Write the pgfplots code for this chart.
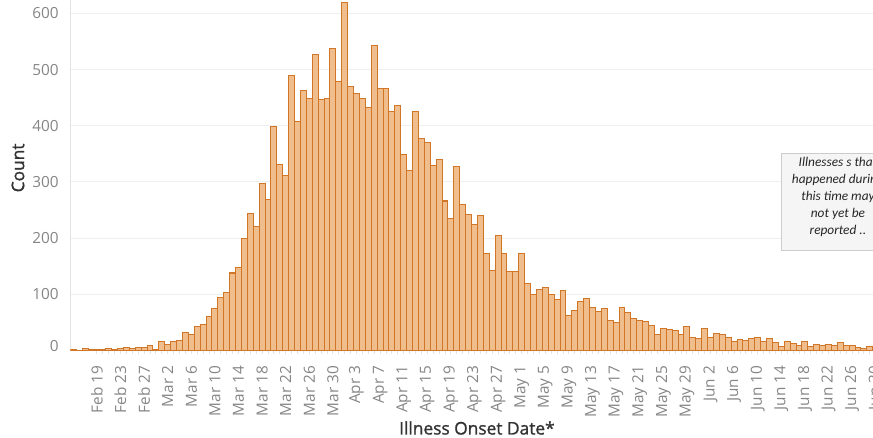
\documentclass[border=0pt]{standalone}
\usepackage{fontspec}
\setmainfont{Open Sans}
\newfontfamily\titlefont[FakeBold=1.2]{Open Sans}
\newfontfamily\notefont{Carlito}
\usepackage{pgfplots}
\pgfplotsset{compat=1.18}
\usepackage{pgfplotstable}

\definecolor{barfill}{HTML}{F0BE8C}
\definecolor{baredge}{HTML}{D17626}
\definecolor{ticktext}{HTML}{858585}
\definecolor{titletext}{HTML}{333333}
\definecolor{gridc}{HTML}{EFEFEF}
\definecolor{axisc}{HTML}{E3E3E3}
\definecolor{notefill}{HTML}{F5F5F5}
\definecolor{noteedge}{HTML}{CCCCCC}

% day 0 = Feb 15
\pgfplotstableread{
day count
0 2
1 0
2 4
3 1
4 1
5 1
6 4
7 1
8 4
9 6
10 4
11 6
12 6
13 9
14 2
15 16
16 11
17 16
18 18
19 32
20 29
21 42
22 47
23 61
24 74
25 95
26 104
27 138
28 147
29 200
30 243
31 220
32 297
33 269
34 398
35 331
36 312
37 490
38 407
39 463
40 449
41 527
42 446
43 449
44 538
45 479
46 619
47 469
48 458
49 449
50 432
51 542
52 466
53 466
54 426
55 436
56 348
57 321
58 426
59 377
60 370
61 329
62 340
63 266
64 235
65 327
66 260
67 242
68 225
69 241
70 172
71 143
72 205
73 172
74 140
75 140
76 172
77 119
78 100
79 109
80 112
81 100
82 90
83 106
84 63
85 71
86 87
87 93
88 76
89 69
90 74
91 54
92 50
93 76
94 68
95 57
96 54
97 52
98 45
99 29
100 39
101 37
102 35
103 29
104 43
105 24
106 22
107 39
108 24
109 31
110 29
111 24
112 16
113 20
114 18
115 22
116 23
117 16
118 22
119 15
120 7
121 16
122 13
123 9
124 16
125 7
126 11
127 9
128 11
129 9
130 15
131 9
132 9
133 6
134 4
135 7
}\onset

\begin{document}
\begin{tikzpicture}
\begin{axis}[
    name=ax,
    scale only axis,
    width=610.65pt,
    height=262.9pt,
    xmin=-0.5, xmax=137.5,
    ymin=0, ymax=623.7,
    ybar,
    bar width=1,
    axis x line*=bottom,
    axis y line*=left,
    axis line style={draw=axisc, line width=0.75pt},
    xtick={4,8,...,136},
    xticklabels={Feb 19,Feb 23,Feb 27,Mar 2,Mar 6,Mar 10,Mar 14,Mar 18,Mar 22,Mar 26,Mar 30,Apr 3,Apr 7,Apr 11,Apr 15,Apr 19,Apr 23,Apr 27,May 1,May 5,May 9,May 13,May 17,May 21,May 25,May 29,Jun 2,Jun 6,Jun 10,Jun 14,Jun 18,Jun 22,Jun 26,Jun 30},
    minor x tick num=3,
    ytick={0,100,...,600},
    yticklabels={\raisebox{7pt}{0},100,200,300,400,500,600},
    ymajorgrids,
    grid style={draw=gridc, line width=0.75pt},
    tick align=outside,
    major tick length=2.5pt,
    minor tick length=2.5pt,
    xtick style={draw=axisc, line width=0.6pt},
    ytick style={draw=none},
    xticklabel style={rotate=90, anchor=east, inner sep=0pt,
        font=\fontsize{11.5}{12}\selectfont, text=ticktext},
    xticklabel shift=8.8pt,
    yticklabel style={anchor=east, inner sep=0pt,
        font=\fontsize{11.5}{12}\selectfont, text=ticktext},
    yticklabel shift=6pt,
    xlabel={Illness Onset Date*},
    xlabel style={at={(axis description cs:0.4994,0)}, anchor=center,
        yshift=-58.1pt, font=\titlefont\fontsize{13}{15}\selectfont, text=titletext},
    ylabel={Count},
    ylabel style={at={(axis description cs:0,0.521)}, anchor=center,
        yshift=39.3pt, font=\titlefont\fontsize{13}{15}\selectfont, text=titletext},
]
\addplot[fill=barfill, draw=baredge, line width=0.8pt] table[x=day, y=count] {\onset};

\draw[draw=noteedge, fill=notefill, line width=0.75pt]
    (axis cs:120.1,178.8) rectangle (axis cs:150,351.4);
\node[font=\notefont\itshape\fontsize{10}{12.75}\selectfont, align=center, text=black!85]
    at (axis cs:129.6,273) {Illnesses s that\\happened during\\this time may\\not yet be\\reported ..};
\end{axis}
\pgfresetboundingbox
\path[use as bounding box] ([xshift=-52.76pt,yshift=-65.6pt]ax.south west)
    rectangle ([xshift=602pt]ax.north west);
\end{tikzpicture}
\end{document}
